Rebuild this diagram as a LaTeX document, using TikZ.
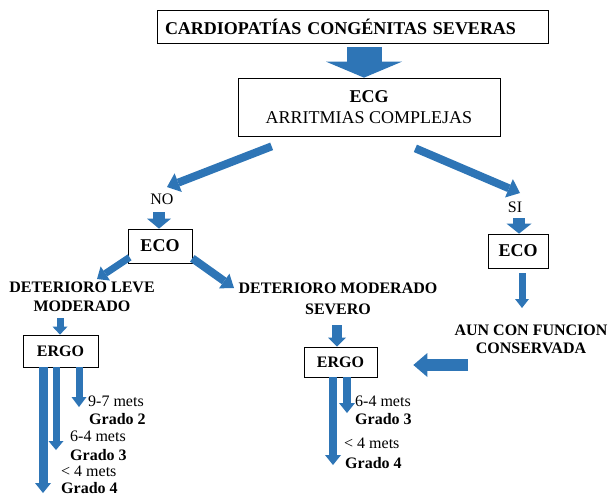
\documentclass[tikz,border=0pt]{standalone}
\usepackage{fontspec}
\setmainfont{Liberation Serif}
\usetikzlibrary{arrows.meta}
\definecolor{arrblue}{HTML}{2E75B6}

\begin{document}
\begin{tikzpicture}[x=1pt,y=-1pt,
  box/.style={draw=black,line width=.7pt,inner sep=0pt,align=center},
  bigtxt/.style={font=\fontsize{18}{21}\selectfont},
  txt/.style={inner sep=1pt,align=center,font=\fontsize{16}{20}\selectfont},
  btxt/.style={inner sep=1pt,align=center,font=\fontsize{16}{20}\selectfont\bfseries},
  blk/.style n args={3}{draw=arrblue,line width=#1,-{Triangle[width=#2,length=#3,line width=0pt]}}]
\path[use as bounding box] (0,0) rectangle (613,498);
% top of the chart
\node[box,bigtxt,inner xsep=8pt,text width=375pt,minimum height=33pt,align=left] (top) at (352.5,26.5) {\textbf{CARDIOPATÍAS CONGÉNITAS SEVERAS}};
\node[box,bigtxt,minimum width=262pt,minimum height=58pt] (ecg) at (369,107) {\textbf{ECG}\\ARRITMIAS COMPLEJAS};
\draw[blk={35pt}{76pt}{16pt}] ([xshift=11.5pt,yshift=-4pt]top.south) -- ([xshift=-5pt]ecg.north);
% left branch
\node[txt] (no) at (162,199) {NO};
\node[box,bigtxt,minimum width=64pt,minimum height=34pt] (ecoL) at (160,246) {\textbf{ECO}};
\node[btxt,font=\fontsize{16}{19}\selectfont\bfseries] (levL) at (82,297) {DETERIORO LEVE\\MODERADO};
\node[box,btxt,inner sep=0pt,minimum width=75pt,minimum height=32pt] (ergoL) at (60.5,351) {ERGO};
\node[btxt,font=\fontsize{16}{21}\selectfont\bfseries] (midtxt) at (338,298.5) {DETERIORO MODERADO\\SEVERO};
\node[box,btxt,inner sep=0pt,minimum width=73pt,minimum height=30pt] (ergoM) at (340.5,362) {ERGO};
\draw[blk={8pt}{20pt}{12pt}] ([xshift=34pt,yshift=-10pt]ecg.south west) -- ([xshift=5pt,yshift=12pt]no.center);
\draw[blk={12pt}{24pt}{10pt}] ([xshift=-3pt,yshift=-13pt]no.center) -- ([xshift=-1pt]ecoL.north);
\draw[blk={7pt}{17pt}{10pt}] ([xshift=2pt,yshift=6pt]ecoL.south west) -- ([xshift=15pt,yshift=18pt]levL.center);
\draw[blk={8pt}{18pt}{12pt}] ([yshift=5pt]ecoL.south east) -- ([xshift=-104pt,yshift=10.5pt]midtxt.center);
\draw[blk={7pt}{15pt}{8pt}] ([xshift=-22pt,yshift=-21pt]levL.center) -- ([xshift=-0.5pt]ergoL.north);
\draw[blk={10pt}{18pt}{9pt}] ([xshift=-1pt,yshift=-26.5pt]midtxt.center) -- ([xshift=-3.5pt]ergoM.north);
% grades, left
\coordinate (g2L) at (79,407);
\coordinate (g3L) at (56,450);
\coordinate (g4L) at (43,493);
\draw[blk={9pt}{16pt}{10pt}] ([xshift=-17.5pt]ergoL.south) -- (g4L);
\draw[blk={7pt}{15pt}{9pt}] ([xshift=-4.5pt]ergoL.south) -- (g3L);
\draw[blk={7pt}{15pt}{10pt}] ([xshift=18.5pt]ergoL.south) -- (g2L);
\node[txt,anchor=west] (m97L) at (87,401) {9-7 mets};
\node[btxt,anchor=west] (gr2L) at (88,419) {Grado 2};
\node[txt,anchor=west] (m64L) at (69,436) {6-4 mets};
\node[btxt,anchor=west] (gr3L) at (69,455) {Grado 3};
\node[txt,anchor=west] (m4L) at (60,471) {< 4 mets};
\node[btxt,anchor=west] (gr4L) at (60,488.5) {Grado 4};
% grades, middle
\coordinate (g3M) at (347,413);
\coordinate (g4M) at (333,465);
\draw[blk={8pt}{16pt}{10pt}] ([xshift=-7.5pt]ergoM.south) -- (g4M);
\draw[blk={8pt}{16pt}{10pt}] ([xshift=6.5pt]ergoM.south) -- (g3M);
\node[txt,anchor=west] (m64M) at (354,401) {6-4 mets};
\node[btxt,anchor=west] (gr3M) at (354,419) {Grado 3};
\node[txt,anchor=west] (m4M) at (343,443) {< 4 mets};
\node[btxt,anchor=west] (gr4M) at (344,463) {Grado 4};
% right branch
\node[txt] (si) at (515,207) {SI};
\node[box,bigtxt,minimum width=60pt,minimum height=34pt] (ecoR) at (518,251) {\textbf{ECO}};
\node[btxt,font=\fontsize{16}{18}\selectfont\bfseries] (aun) at (531,339) {AUN CON FUNCION\\CONSERVADA};
\draw[blk={8pt}{20pt}{12pt}] ([xshift=-85pt,yshift=-12pt]ecg.south east) -- ([xshift=5pt,yshift=14pt]si.center);
\draw[blk={12pt}{25pt}{10pt}] ([xshift=4pt,yshift=-11pt]si.center) -- ([xshift=1pt]ecoR.north);
\draw[blk={7pt}{14pt}{9pt}] ([xshift=4pt,yshift=-5pt]ecoR.south) -- ([xshift=-9pt,yshift=31pt]aun.center);
\draw[blk={12pt}{24pt}{14pt}] ([xshift=-63pt,yshift=-26pt]aun.center) -- ([xshift=36pt,yshift=-3pt]ergoM.east);
\end{tikzpicture}
\end{document}
